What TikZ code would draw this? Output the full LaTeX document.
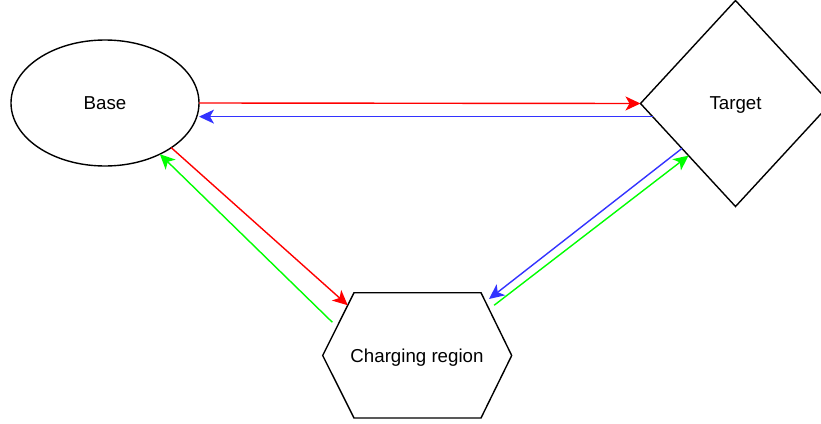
\documentclass[tikz,border=0pt]{standalone}
\usepackage{fontspec}
\setmainfont{Liberation Sans}
\usetikzlibrary{shapes.geometric,arrows.meta,calc}

\definecolor{linkred}{RGB}{255,0,0}
\definecolor{linkblue}{RGB}{51,51,255}
\definecolor{linkgreen}{RGB}{0,255,0}

\begin{document}
\begin{tikzpicture}[x=1pt,y=-1pt,line width=1.4pt,
  font=\fontsize{18.7}{22}\selectfont,
  every node/.style={text depth=0pt},
  shape box/.style={draw=black,inner sep=0pt,outer sep=0pt},
  link/.style={-{Stealth[length=15pt,width=14pt,inset=4pt]}}]
\useasboundingbox (0,0) rectangle (821,423);
% the three places
\node[shape box,ellipse,minimum width=188pt,minimum height=126pt] (base) at (105,103) {Base};
\node[shape box,diamond,minimum width=190pt,minimum height=206pt] (target) at (735.5,103.5) {Target};
\node[inner sep=0pt] (charge) at (417,355.5) {Charging region};
\coordinate (hw) at (322.7,355.5);
\coordinate (hnw) at (354,292.7);
\coordinate (hne) at (481,292.7);
\coordinate (he) at (511.7,355.5);
\coordinate (hse) at (481,418);
\coordinate (hsw) at (354,418);
\draw (hw)--(hnw)--(hne)--(he)--(hse)--(hsw)--cycle;
% base <-> target
\draw[link,linkred] (base.east)--(target.west);
\draw[link,linkblue] (target.189)--(target.189 -| base.east);
% base <-> charging region
\draw[link,linkred] (base.-34)--($(hw)!0.8!(hnw)$);
\draw[link,linkgreen] ([xshift=-7pt]$(hw)!0.53!(hnw)$)--(base.-43);
% target <-> charging region
\draw[link,linkblue] (target.220)--([xshift=5pt]$(hne)!0.1!(he)$);
\draw[link,linkgreen] ([xshift=7pt]$(hne)!0.2!(he)$)--(target.228);
\end{tikzpicture}
\end{document}
